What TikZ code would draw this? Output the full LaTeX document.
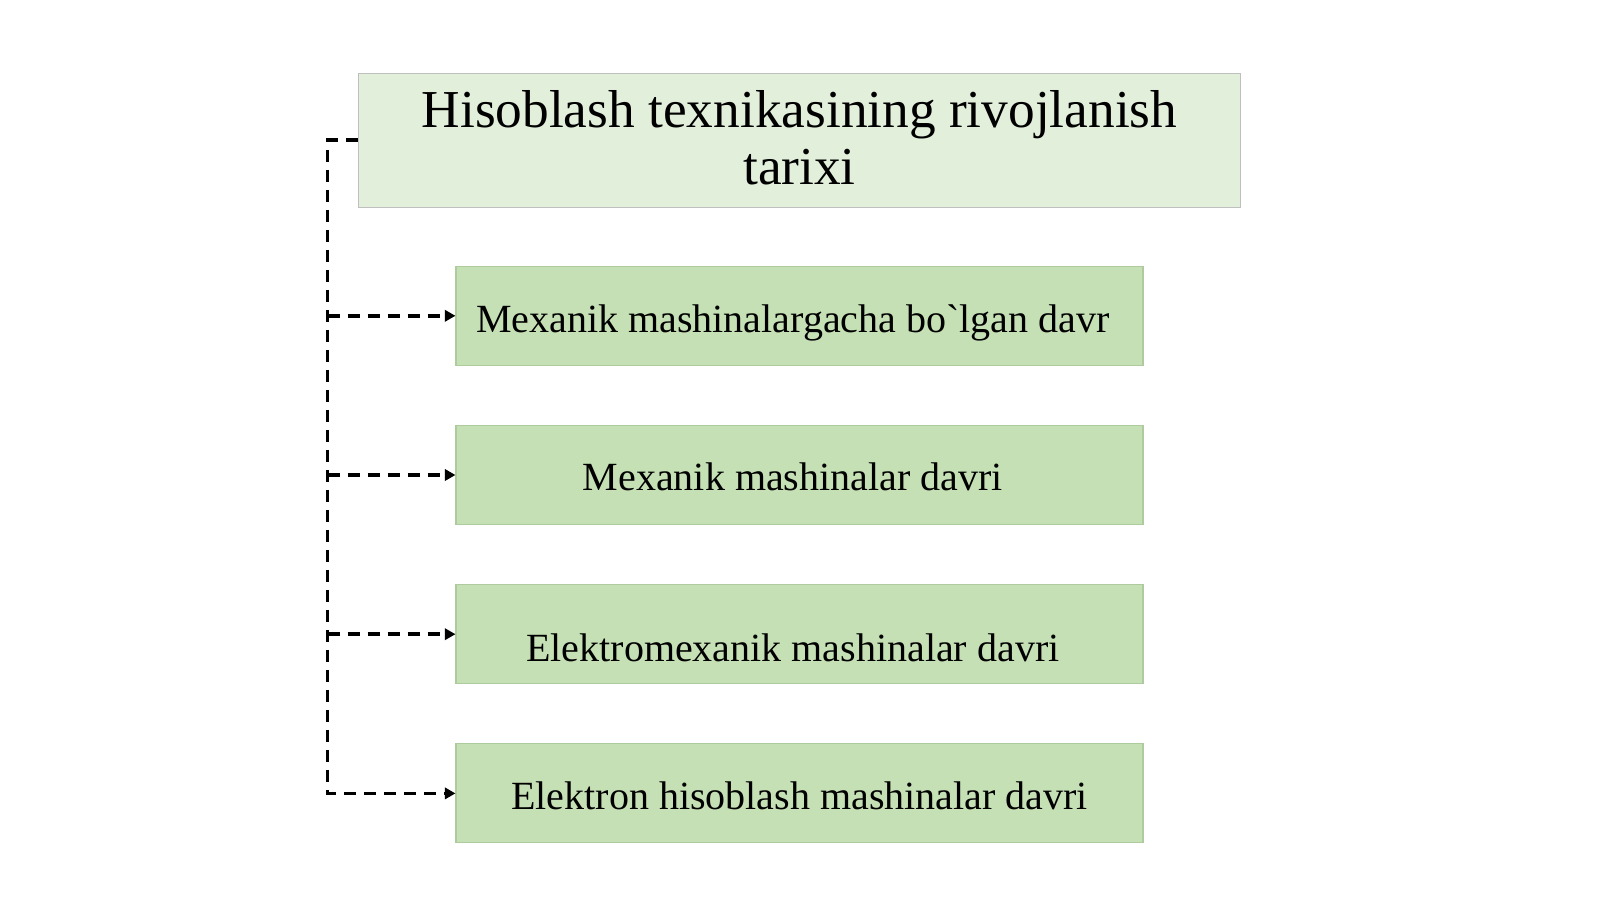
\documentclass[tikz,border=0pt]{standalone}
\usepackage{fontspec}
\setmainfont{Liberation Serif}[Ligatures=TeXOff]
\usetikzlibrary{arrows.meta}
\definecolor{titlefill}{HTML}{E2EFDA}
\definecolor{boxfill}{HTML}{C5E0B4}
\definecolor{boxline}{HTML}{ADCB9C}
\newcommand{\lowered}[2]{\raisebox{-#1}[\height][\depth]{#2}}
\tikzset{
  titlebox/.style={draw=black!25, line width=0.8pt, fill=titlefill, minimum width=882*0.75pt, minimum height=134*0.75pt, inner sep=0pt, align=center, font=\fontsize{40}{43}\selectfont},
  childbox/.style={draw=boxline, line width=0.8pt, fill=boxfill, minimum width=687*0.75pt, minimum height=99*0.75pt, inner sep=0pt, font=\fontsize{30}{34}\selectfont},
  conn/.style={line width=2.8pt, dash pattern=on 9pt off 6pt, black},
  arr/.style={conn, -{Triangle[length=8pt,width=8.5pt]}}
}
\begin{document}
\begin{tikzpicture}[x=0.75pt,y=-0.75pt]
\useasboundingbox[fill=white] (0,0) rectangle (1600,899);
\node[titlebox] (t) at (799.5,140.3) {\lowered{-2pt}{Hisoblash texnikasining rivojlanish}\\\lowered{-2pt}{tarixi}};
\node[childbox] (b1) at (799.5,315.8) {\hspace*{-10pt}\lowered{5pt}{Mexanik mashinalargacha bo`lgan davr}};
\node[childbox] (b2) at (799.5,475) {\hspace*{-10pt}\lowered{1.5pt}{Mexanik mashinalar davri}};
\node[childbox] (b3) at (799.5,634.2) {\hspace*{-10pt}\lowered{10pt}{Elektromexanik mashinalar davri}};
\node[childbox] (b4) at (799.5,793.4) {\lowered{1.5pt}{Elektron hisoblash mashinalar davri}};
\coordinate (top) at (327.6,140.3);
\draw[arr] (t.west) -- (top) |- (b4.west);
\draw[arr] (top |- b1.west) -- (b1.west);
\draw[arr] (top |- b2.west) -- (b2.west);
\draw[arr] (top |- b3.west) -- (b3.west);
\end{tikzpicture}
\end{document}
